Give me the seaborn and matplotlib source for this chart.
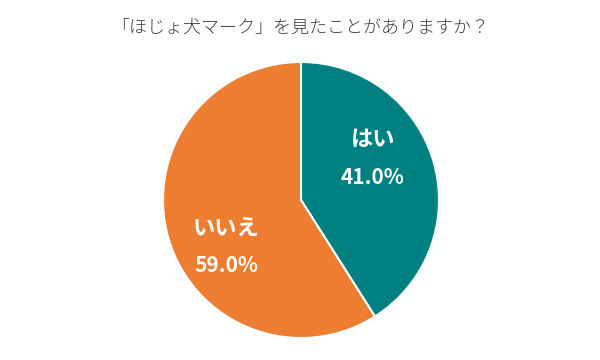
import matplotlib
matplotlib.use("Agg")
import matplotlib.pyplot as plt
import seaborn as sns
import numpy as np

title = "「ほじょ犬マーク」を見たことがありますか？"
categories = ["はい", "いいえ"]
values = [41.0, 59.0]
colors = ["#008080", "#ED7D31"]

sns.set_theme(style="white")
plt.rcParams['font.family'] = ['Noto Sans CJK JP', 'DejaVu Sans']

fig = plt.figure(figsize=(6, 3.6), dpi=100)
ax = fig.add_axes([(301 - 138) / 600, 22 / 360, 276 / 600, 276 / 360])
wedges, _ = ax.pie(values, colors=colors, startangle=90, counterclock=False,
                   radius=1.0, wedgeprops=dict(edgecolor="white", linewidth=1.5))
ax.set_xlim(-1, 1)
ax.set_ylim(-1, 1)
ax.set_axis_off()

# label placement offsets (angle tweak, radius) relative to wedge midangle
offsets = [(13.5, 0.60), (16.0, 0.64)]
for w, cat, v, (da, r) in zip(wedges, categories, values, offsets):
    mid = (w.theta1 + w.theta2) / 2 + da
    x = r * np.cos(np.radians(mid))
    y = r * np.sin(np.radians(mid))
    ax.text(x, y + 0.14, cat, ha="center", va="center", color="white",
            fontsize=16, fontweight="bold")
    ax.text(x, y - 0.135, f"{v:.1f}%", ha="center", va="center", color="white",
            fontsize=15, fontweight="bold")

fig.text(0.5, 1 - 28 / 360, title, ha="center", va="center", color="#404040",
         fontsize=13, fontweight="light")

fig.savefig("out.png", dpi=100, facecolor="white")
